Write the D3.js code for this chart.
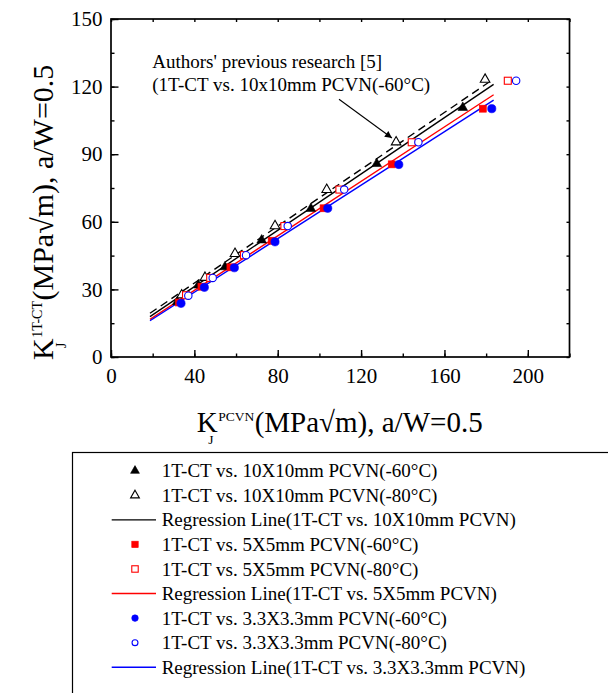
<!DOCTYPE html>
<html>
<head>
<meta charset="utf-8">
<script src="https://cdn.jsdelivr.net/npm/d3@7"></script>
<style>
  html, body { margin: 0; padding: 0; background: #fff; }
  svg { display: block; }
  text { font-family: "Liberation Serif", "Times New Roman", serif; fill: #000; }
</style>
</head>
<body>
<svg id="chart" width="608" height="693"></svg>
<script>
// ---------------- data ----------------
const xTicks = [0, 40, 80, 120, 160, 200];
const yTicks = [0, 30, 60, 90, 120, 150];

const ct10_60x = [31.8, 41.9, 54.7, 72.3, 95.9, 127.5, 168.8];
const ct10_60y = [24.5, 31.9, 40.0, 51.9, 65.9, 85.8, 110.7];
const ct10_80x = [33.9, 45.1, 59.5, 78.7, 103.5, 136.8, 179.5];
const ct10_80y = [27.5, 35.3, 45.9, 58.2, 74.3, 95.4, 123.2];
const ct5_60x  = [32.6, 43.4, 57.3, 77.1, 102.0, 134.7, 178.4];
const ct5_60y  = [24.2, 31.2, 39.8, 51.6, 66.0, 85.5, 110.2];
const ct5_80x  = [36.0, 47.6, 63.8, 83.2, 109.6, 144.3, 190.4];
const ct5_80y  = [27.4, 35.1, 45.2, 58.1, 74.3, 95.3, 122.6];
const ct33_60x = [33.6, 44.8, 59.2, 78.7, 104.0, 138.1, 182.7];
const ct33_60y = [23.8, 30.9, 39.6, 51.1, 66.0, 85.4, 110.2];
const ct33_80x = [37.1, 48.8, 64.8, 84.8, 111.9, 147.5, 194.4];
const ct33_80y = [27.2, 35.1, 45.2, 58.1, 74.3, 95.3, 122.6];

// regression line end points (x, y)
const regX      = [18.7, 183.6];
const regBlackY = [17.9, 121.0];
const regRedY   = [16.7, 116.4];
const regBlueY  = [16.1, 114.0];
const prevY     = [19.4, 123.4];   // authors' previous research (dashed)

const arrowX = [109.4, 134.8];
const arrowY = [114.4, 97.2];

const annotLines = ["Authors' previous research [5]", "(1T-CT vs. 10x10mm PCVN(-60\u00B0C)"];

const legendLabels = [
  "1T-CT vs. 10X10mm PCVN(-60\u00B0C)",
  "1T-CT vs. 10X10mm PCVN(-80\u00B0C)",
  "Regression Line(1T-CT vs. 10X10mm PCVN)",
  "1T-CT vs. 5X5mm PCVN(-60\u00B0C)",
  "1T-CT vs. 5X5mm PCVN(-80\u00B0C)",
  "Regression Line(1T-CT vs. 5X5mm PCVN)",
  "1T-CT vs. 3.3X3.3mm PCVN(-60\u00B0C)",
  "1T-CT vs. 3.3X3.3mm PCVN(-80\u00B0C)",
  "Regression Line(1T-CT vs. 3.3X3.3mm PCVN)"
];

// ---------------- drawing ----------------
const svg = d3.select("#chart");
const L = 111, R = 569.5, T = 19, B = 357;
const x = d3.scaleLinear().domain([0, 220]).range([L, R]);
const y = d3.scaleLinear().domain([0, 150]).range([B, T]);

const BLACK = "#000", RED = "#ff0000", BLUE = "#0000ff";

const series = [
  {xs: ct10_60x, ys: ct10_60y, shape: "tri", fill: true,  color: BLACK},
  {xs: ct10_80x, ys: ct10_80y, shape: "tri", fill: false, color: BLACK},
  {xs: ct5_60x,  ys: ct5_60y,  shape: "sq",  fill: true,  color: RED},
  {xs: ct5_80x,  ys: ct5_80y,  shape: "sq",  fill: false, color: RED},
  {xs: ct33_60x, ys: ct33_60y, shape: "circ",fill: true,  color: BLUE},
  {xs: ct33_80x, ys: ct33_80y, shape: "circ",fill: false, color: BLUE}
];

function drawMarker(g, shape, fill, color, cx, cy, scale) {
  scale = scale || 1;
  let el;
  if (shape === "tri") {
    const s = 4.8 * scale;
    el = g.append("path")
      .attr("d", `M${cx},${cy - s * 1.15} L${cx + s},${cy + s * 0.6} L${cx - s},${cy + s * 0.6} Z`);
  } else if (shape === "sq") {
    const s = 3.5 * scale;
    el = g.append("rect").attr("x", cx - s).attr("y", cy - s).attr("width", 2 * s).attr("height", 2 * s);
  } else {
    el = g.append("circle").attr("cx", cx).attr("cy", cy).attr("r", (fill ? 4.1 : 3.7) * scale);
  }
  if (fill) el.attr("fill", color).attr("stroke", color).attr("stroke-width", 0.6);
  else el.attr("fill", "#fff").attr("stroke", color).attr("stroke-width", 1.1);
  return el;
}

// regression lines
const lineGen = d3.line().x(d => x(d[0])).y(d => y(d[1]));
const plot = svg.append("g");
plot.append("path").datum(d3.zip(regX, prevY)).attr("d", lineGen)
  .attr("fill", "none").attr("stroke", BLACK).attr("stroke-width", 1.4).attr("stroke-dasharray", "8,5");
plot.append("path").datum(d3.zip(regX, regBlackY)).attr("d", lineGen)
  .attr("fill", "none").attr("stroke", BLACK).attr("stroke-width", 1.4);
plot.append("path").datum(d3.zip(regX, regRedY)).attr("d", lineGen)
  .attr("fill", "none").attr("stroke", RED).attr("stroke-width", 1.4);
plot.append("path").datum(d3.zip(regX, regBlueY)).attr("d", lineGen)
  .attr("fill", "none").attr("stroke", BLUE).attr("stroke-width", 1.4);

// points
series.forEach(s => {
  s.xs.forEach((v, i) => drawMarker(plot, s.shape, s.fill, s.color, x(v), y(s.ys[i])));
});

// arrow
svg.append("defs").append("marker")
  .attr("id", "ah").attr("viewBox", "0 0 10 10").attr("refX", 10).attr("refY", 5)
  .attr("markerWidth", 9).attr("markerHeight", 7).attr("markerUnits", "userSpaceOnUse")
  .attr("orient", "auto")
  .append("path").attr("d", "M0,0 L10,5 L0,10 Z").attr("fill", "#000");
svg.append("line")
  .attr("x1", x(arrowX[0])).attr("y1", y(arrowY[0]))
  .attr("x2", x(arrowX[1])).attr("y2", y(arrowY[1]))
  .attr("stroke", "#000").attr("stroke-width", 1.1).attr("marker-end", "url(#ah)");

// annotation text
annotLines.forEach((t, i) => {
  svg.append("text").attr("x", 152.3).attr("y", 68.3 + i * 22.4)
    .attr("font-size", 19).text(t);
});

// axes (ticks inward)
const xMinor = d3.range(0, 221, 20);
const yMinor = d3.range(0, 151, 15);
const axG = svg.append("g").attr("stroke", "#000");
// bottom
axG.append("g").attr("transform", `translate(0,${B})`)
  .call(d3.axisBottom(x).tickValues(xMinor).tickSize(-3.5).tickFormat(""))
  .call(g => g.select(".domain").remove());
axG.append("g").attr("transform", `translate(0,${B})`)
  .call(d3.axisBottom(x).tickValues(xTicks).tickSize(-7).tickPadding(11).tickFormat(d3.format("d")))
  .call(g => g.select(".domain").remove())
  .call(g => g.selectAll("text").attr("font-size", 21).attr("font-family", "Liberation Serif").attr("stroke", "none").attr("fill", "#000"));
// left
axG.append("g").attr("transform", `translate(${L},0)`)
  .call(d3.axisLeft(y).tickValues(yMinor).tickSize(-3.5).tickFormat(""))
  .call(g => g.select(".domain").remove());
axG.append("g").attr("transform", `translate(${L},0)`)
  .call(d3.axisLeft(y).tickValues(yTicks).tickSize(-7.5).tickPadding(8.5).tickFormat(d3.format("d")))
  .call(g => g.select(".domain").remove())
  .call(g => g.selectAll("text").attr("font-size", 21).attr("font-family", "Liberation Serif").attr("stroke", "none").attr("fill", "#000"));
// top
axG.append("g").attr("transform", `translate(0,${T})`)
  .call(d3.axisTop(x).tickValues(xMinor).tickSize(-3).tickFormat(""))
  .call(g => g.select(".domain").remove());
// right
axG.append("g").attr("transform", `translate(${R},0)`)
  .call(d3.axisRight(y).tickValues(yMinor).tickSize(-3).tickFormat(""))
  .call(g => g.select(".domain").remove());
axG.selectAll(".tick line").attr("stroke", "#000").attr("stroke-width", 1.4);
svg.append("rect").attr("x", L).attr("y", T).attr("width", R - L).attr("height", B - T)
  .attr("fill", "none").attr("stroke", "#000").attr("stroke-width", 1.7);

// axis titles: one text element, tspans for K, subscript J, superscript, rest
function measure(str, size) {
  const t = svg.append("text").attr("font-size", size).text(str);
  const w = t.node().getComputedTextLength();
  t.remove();
  return w;
}
function composite(g, F, sup, supF) {
  const kw = measure("K", F);
  const sw = measure(sup, supF);
  const t = g.append("text").attr("font-size", F);
  t.append("tspan").attr("x", 0).attr("y", 0).text("K");
  t.append("tspan").attr("x", kw * 0.55).attr("y", 0.43 * F).attr("font-size", supF).text("J");
  t.append("tspan").attr("x", kw + 0.5).attr("y", -0.36 * F).attr("font-size", supF).text(sup);
  t.append("tspan").attr("x", kw + sw + 1).attr("y", 0).text("(MPa\u221Am), a/W=0.5");
}
composite(svg.append("g").attr("transform", "translate(196.7,431.7)"), 29, "PCVN", 13.5);
composite(svg.append("g").attr("transform", "translate(52.7,360) rotate(-90)"), 30, "1T-CT", 14);

// legend
const lg = svg.append("g");
lg.append("rect").attr("x", 72.5).attr("y", 452.5).attr("width", 560).attr("height", 260)
  .attr("fill", "#fff").attr("stroke", "#000").attr("stroke-width", 1.2);
const legendKeys = [
  {shape: "tri", fill: true, color: BLACK}, {shape: "tri", fill: false, color: BLACK}, {line: true, color: BLACK},
  {shape: "sq", fill: true, color: RED}, {shape: "sq", fill: false, color: RED}, {line: true, color: RED},
  {shape: "circ", fill: true, color: BLUE}, {shape: "circ", fill: false, color: BLUE}, {line: true, color: BLUE}
];
legendKeys.forEach((k, i) => {
  const cy = 470.7 + i * 24.57;
  if (k.line) {
    lg.append("line").attr("x1", 111.7).attr("x2", 156).attr("y1", cy).attr("y2", cy)
      .attr("stroke", k.color).attr("stroke-width", 1.4);
  } else {
    drawMarker(lg, k.shape, k.fill, k.color, 135, cy, k.shape === "circ" ? 0.8 : 0.92);
  }
  lg.append("text").attr("x", 161.7).attr("y", cy + 6.6).attr("font-size", 19).text(legendLabels[i]);
});
</script>
</body>
</html>
